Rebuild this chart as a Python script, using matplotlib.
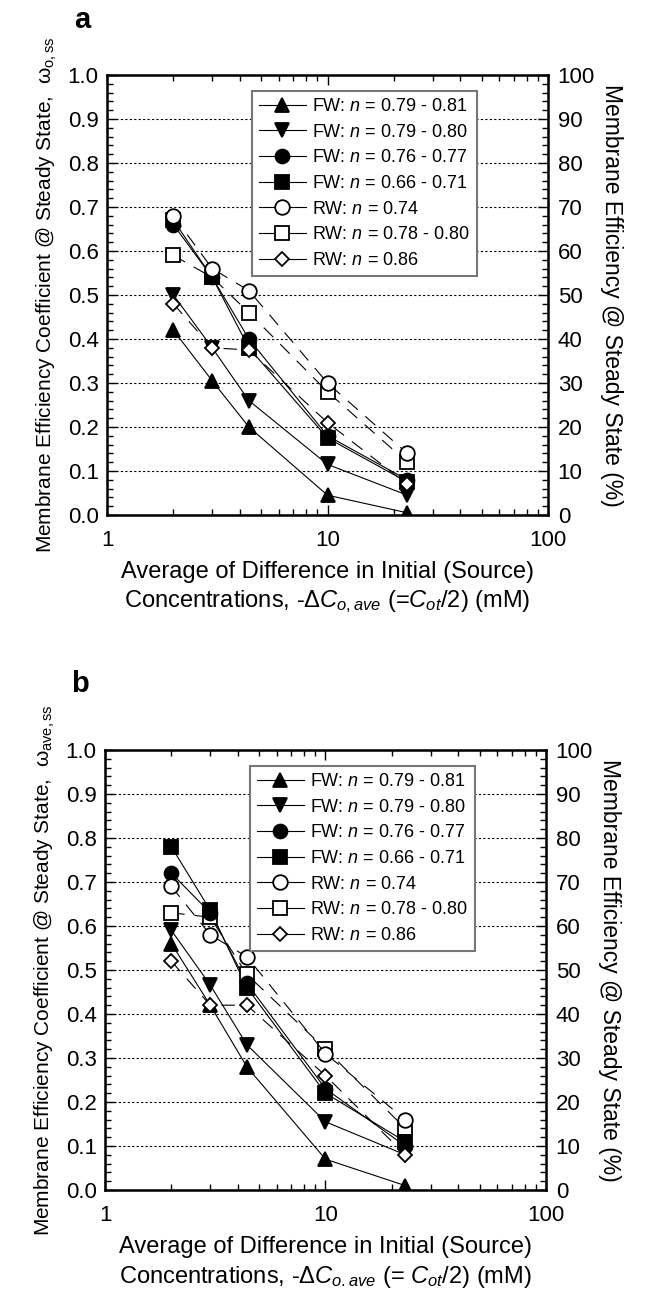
import numpy as np
import matplotlib
matplotlib.use("Agg")
import matplotlib.pyplot as plt
from matplotlib.lines import Line2D
from matplotlib.ticker import MultipleLocator, LogLocator, NullFormatter, FixedLocator

plt.rcParams["font.family"] = ["Liberation Sans", "DejaVu Sans"]
plt.rcParams["mathtext.fontset"] = "custom"
plt.rcParams["mathtext.rm"] = "Liberation Sans"
plt.rcParams["mathtext.it"] = "Liberation Sans:italic"
plt.rcParams["mathtext.bf"] = "Liberation Sans:bold"

# ── data ─────────────────────────────────────────────────────────────────────
conc = [2, 3, 4.4, 10, 23]   # mM

labels = ["FW: $n$ = 0.79 - 0.81", "FW: $n$ = 0.79 - 0.80", "FW: $n$ = 0.76 - 0.77",
          "FW: $n$ = 0.66 - 0.71", "RW: $n$ = 0.74", "RW: $n$ = 0.78 - 0.80",
          "RW: $n$ = 0.86"]

# panel a : omega_o,ss
fw1_a = [0.42, 0.305, 0.20, 0.045, 0.005]
fw2_a = [0.50, 0.38, 0.26, 0.115, 0.045]
fw3_a = [0.66, 0.54, 0.40, 0.18, 0.08]
fw4_a = [0.67, 0.54, 0.38, 0.175, 0.075]
rw1_a = [0.68, 0.56, 0.51, 0.30, 0.14]
rw2_a = [0.59, 0.54, 0.46, 0.28, 0.12]
rw3_a = [0.48, 0.38, 0.375, 0.21, 0.07]

# panel b : omega_ave,ss
fw1_b = [0.56, 0.42, 0.28, 0.07, 0.01]
fw2_b = [0.59, 0.466, 0.33, 0.155, 0.08]
fw3_b = [0.72, 0.63, 0.47, 0.23, 0.10]
fw4_b = [0.78, 0.636, 0.46, 0.22, 0.11]
rw1_b = [0.69, 0.58, 0.53, 0.31, 0.16]
rw2_b = [0.63, 0.62, 0.49, 0.32, 0.14]
rw3_b = [0.52, 0.42, 0.42, 0.26, 0.08]

# marker, fill, linestyle, zorder
DASH = (0, (12, 9))
STYLES = [
    ("^", "black", "-", 4),
    ("v", "black", "-", 4),
    ("o", "black", "-", 4),
    ("s", "black", "-", 4),
    ("o", "white", DASH, 6),
    ("s", "white", DASH, 3),
    ("D", "white", DASH, 6),
]
MS = [10, 10, 10, 10, 10.5, 10, 7.5]

W, H = 645, 1294


def draw_panel(ax, series, letter, letter_y, ylab, xlab2):
    for i, (vals, (mk, fc, ls, z)) in enumerate(zip(series, STYLES)):
        ax.plot(conc, vals, color="black", lw=0.8, ls=ls, zorder=z - 1)
        ax.plot(conc, vals, ls="none", marker=mk, ms=MS[i], mfc=fc, mec="black",
                mew=1.3, zorder=z)

    ax.set_xscale("log")
    ax.set_xlim(1, 100)
    ax.set_ylim(0, 1.0)
    ax.xaxis.set_major_locator(FixedLocator([1, 10, 100]))
    ax.set_xticklabels(["1", "10", "100"])
    ax.xaxis.set_minor_locator(LogLocator(base=10, subs=np.arange(2, 10)))
    ax.xaxis.set_minor_formatter(NullFormatter())
    ax.yaxis.set_ticks(np.arange(0, 1.01, 0.1))
    ax.set_yticklabels([f"{v:.1f}" for v in np.arange(0, 1.01, 0.1)])
    ax.yaxis.set_minor_locator(MultipleLocator(0.02))
    ax.grid(axis="y", which="major", ls=(0, (2, 2)), color="black", lw=0.8)
    ax.tick_params(which="both", direction="in", top=True, right=False,
                   labelsize=16, width=1.0)
    ax.tick_params(which="major", length=7, pad=6)
    ax.tick_params(axis="x", which="major", pad=11)
    ax.tick_params(which="minor", length=4)
    for sp in ax.spines.values():
        sp.set_linewidth(1.8)

    ax2 = ax.twinx()
    ax2.set_ylim(0, 100)
    ax2.yaxis.set_major_locator(MultipleLocator(10))
    ax2.yaxis.set_minor_locator(MultipleLocator(2))
    ax2.tick_params(which="both", direction="in", labelsize=16, width=1.0)
    ax2.tick_params(which="major", length=7, pad=7)
    ax2.tick_params(which="minor", length=4)
    ax2.set_ylabel("Membrane Efficiency @ Steady State (%)", rotation=270,
                   fontsize=16.5, labelpad=20)

    ax.set_ylabel(ylab, fontsize=15, labelpad=6)
    ax.set_xlabel("Average of Difference in Initial (Source)\n" + xlab2,
                  fontsize=17, labelpad=7, linespacing=1.3)
    ax.text(-0.057, letter_y, letter, transform=ax.transAxes, fontsize=21,
            fontweight="bold", ha="center", va="center")

    handles = [Line2D([], [], color="black", lw=0.8, marker=mk, ms=MS[i],
                      mfc=fc, mec="black", mew=1.3)
               for i, (mk, fc, ls, z) in enumerate(STYLES)]
    leg = ax.legend(handles, labels, loc="upper right", bbox_to_anchor=(0.86, 0.985),
                    fontsize=13, frameon=True, fancybox=False, framealpha=1,
                    edgecolor="#777777", handlelength=2.6, handletextpad=0.35,
                    labelspacing=0.48, borderpad=0.4)
    leg.get_frame().set_linewidth(1.5)
    leg.set_zorder(10)


fig = plt.figure(figsize=(W / 100, H / 100), dpi=100)
ax_a = fig.add_axes([107 / W, 1 - 515 / H, 441 / W, 440 / H])
ax_b = fig.add_axes([105 / W, 1 - 1190 / H, 441 / W, 440 / H])

draw_panel(ax_a, [fw1_a, fw2_a, fw3_a, fw4_a, rw1_a, rw2_a, rw3_a], "a", 1.125,
           r"Membrane Efficiency Coefficient @ Steady State,  ω$_{\mathrm{o,ss}}$",
           r"Concentrations, -$\Delta C_{o,ave}$ (=$C_{ot}$/2) (mM)")
draw_panel(ax_b, [fw1_b, fw2_b, fw3_b, fw4_b, rw1_b, rw2_b, rw3_b], "b", 1.15,
           r"Membrane Efficiency Coefficient @ Steady State,  ω$_{\mathrm{ave,ss}}$",
           r"Concentrations, -$\Delta C_{o.ave}$ (= $C_{ot}$/2) (mM)")

fig.savefig("out.png", dpi=100)
